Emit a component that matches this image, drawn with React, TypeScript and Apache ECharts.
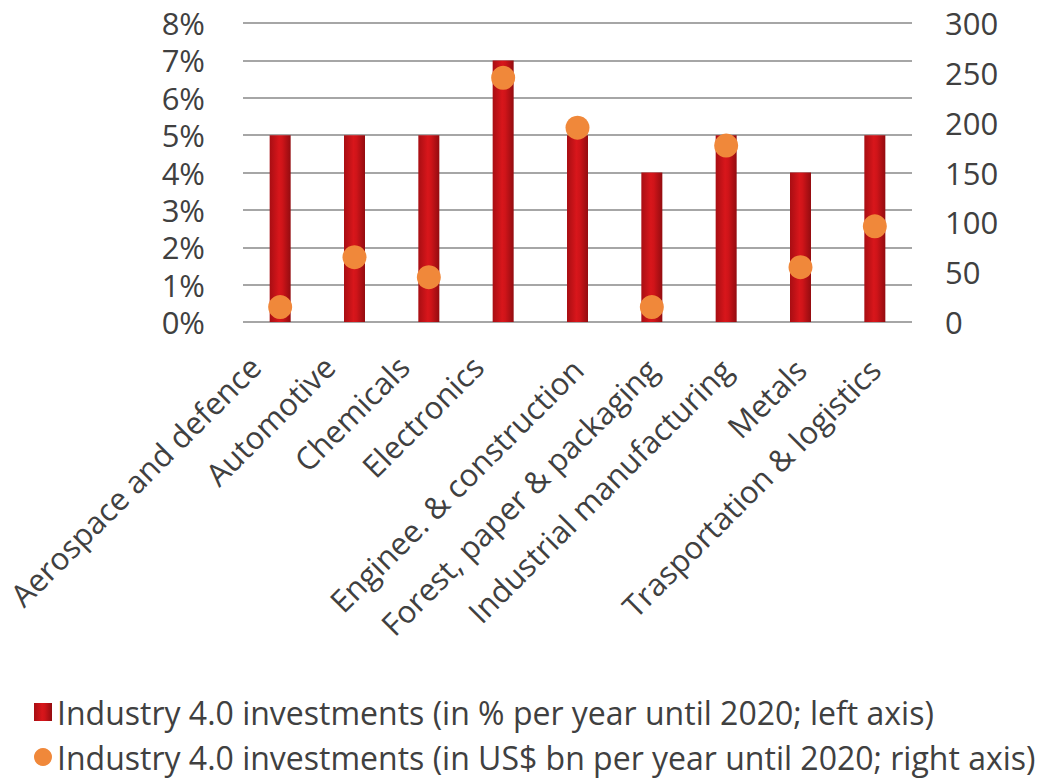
import React, { useEffect, useRef } from "react";
import * as echarts from "echarts";

const categories = [
  "Aerospace and defence",
  "Automotive",
  "Chemicals",
  "Electronics",
  "Enginee. & construction",
  "Forest, paper & packaging",
  "Industrial manufacturing",
  "Metals",
  "Trasportation & logistics",
];
// the first four labels sit a little left of their bars in the reference
const shiftedLabelCount = 4;
const percentValues = [5, 5, 5, 7, 5, 4, 5, 4, 5];
const usdValues = [15, 65, 45, 245, 195, 15, 177, 55, 96];
const leftTicks = { min: 0, max: 8, interval: 1 };
const rightTicks = { min: 0, max: 300, interval: 50 };
const seriesNames = [
  "Industry 4.0 investments (in % per year until 2020; left axis)",
  "Industry 4.0 investments (in US$ bn per year until 2020; right axis)",
];

const FONT = "'Open Sans', 'Noto Sans', sans-serif";
const TEXT = "#404040";

export default function App() {
  const ref = useRef<HTMLDivElement>(null);
  useEffect(() => {
    document.body.style.margin = "0";
    const chart = echarts.init(ref.current!, null, { renderer: "svg" });
    const barColor = new echarts.graphic.LinearGradient(0, 0, 1, 0, [
      { offset: 0, color: "#a80e13" },
      { offset: 0.45, color: "#d8161b" },
      { offset: 0.6, color: "#cf1419" },
      { offset: 1, color: "#930c10" },
    ]);
    const xData = categories.map((c, i) =>
      i < shiftedLabelCount
        ? { value: c, textStyle: { padding: [0, 16, 0, 0], lineHeight: 40 } }
        : { value: c }
    );
    chart.setOption({
      animation: false,
      backgroundColor: "#ffffff",
      textStyle: { fontFamily: FONT },
      grid: {
        left: 243,
        right: 148,
        top: 23,
        bottom: 457,
        containLabel: false,
        outerBoundsMode: "none",
      },
      legend: {
        orient: "vertical",
        left: 34,
        top: 696,
        padding: 0,
        itemGap: 13,
        itemWidth: 18,
        itemHeight: 18,
        textStyle: { fontFamily: FONT, fontSize: 32, lineHeight: 32, color: TEXT },
        data: [
          { name: seriesNames[0], icon: "rect" },
          { name: seriesNames[1], icon: "circle" },
        ],
      },
      xAxis: {
        type: "category",
        data: xData,
        axisLine: { show: false },
        axisTick: { show: false },
        axisLabel: {
          interval: 0,
          rotate: 45,
          margin: 42,
          fontSize: 31,
          lineHeight: 32,
          fontFamily: FONT,
          color: TEXT,
          formatter: (v: string, i: number) => (i < shiftedLabelCount ? v + "\n" : v),
        },
      },
      yAxis: [
        {
          type: "value",
          min: leftTicks.min,
          max: leftTicks.max,
          interval: leftTicks.interval,
          axisLine: { show: false },
          axisTick: { show: false },
          axisLabel: {
            formatter: (v: number) => v + "%",
            fontSize: 31,
            lineHeight: 30,
            fontFamily: FONT,
            color: TEXT,
            margin: 38,
          },
          splitLine: { lineStyle: { color: "#a6a6a6", width: 2 } },
        },
        {
          type: "value",
          position: "right",
          min: rightTicks.min,
          max: rightTicks.max,
          interval: rightTicks.interval,
          axisLine: { show: false },
          axisTick: { show: false },
          axisLabel: {
            fontSize: 31,
            lineHeight: 30,
            fontFamily: FONT,
            color: TEXT,
            margin: 33,
          },
          splitLine: { show: false },
        },
      ],
      series: [
        {
          name: seriesNames[0],
          type: "bar",
          data: percentValues,
          barWidth: 21,
          itemStyle: { color: barColor },
          z: 2,
        },
        {
          name: seriesNames[1],
          type: "scatter",
          yAxisIndex: 1,
          data: usdValues,
          symbol: "circle",
          symbolSize: 24,
          itemStyle: { color: "#f0883a", opacity: 1 },
          z: 3,
        },
      ],
    });
    return () => chart.dispose();
  }, []);
  return <div ref={ref} style={{ width: 1060, height: 779 }} />;
}
